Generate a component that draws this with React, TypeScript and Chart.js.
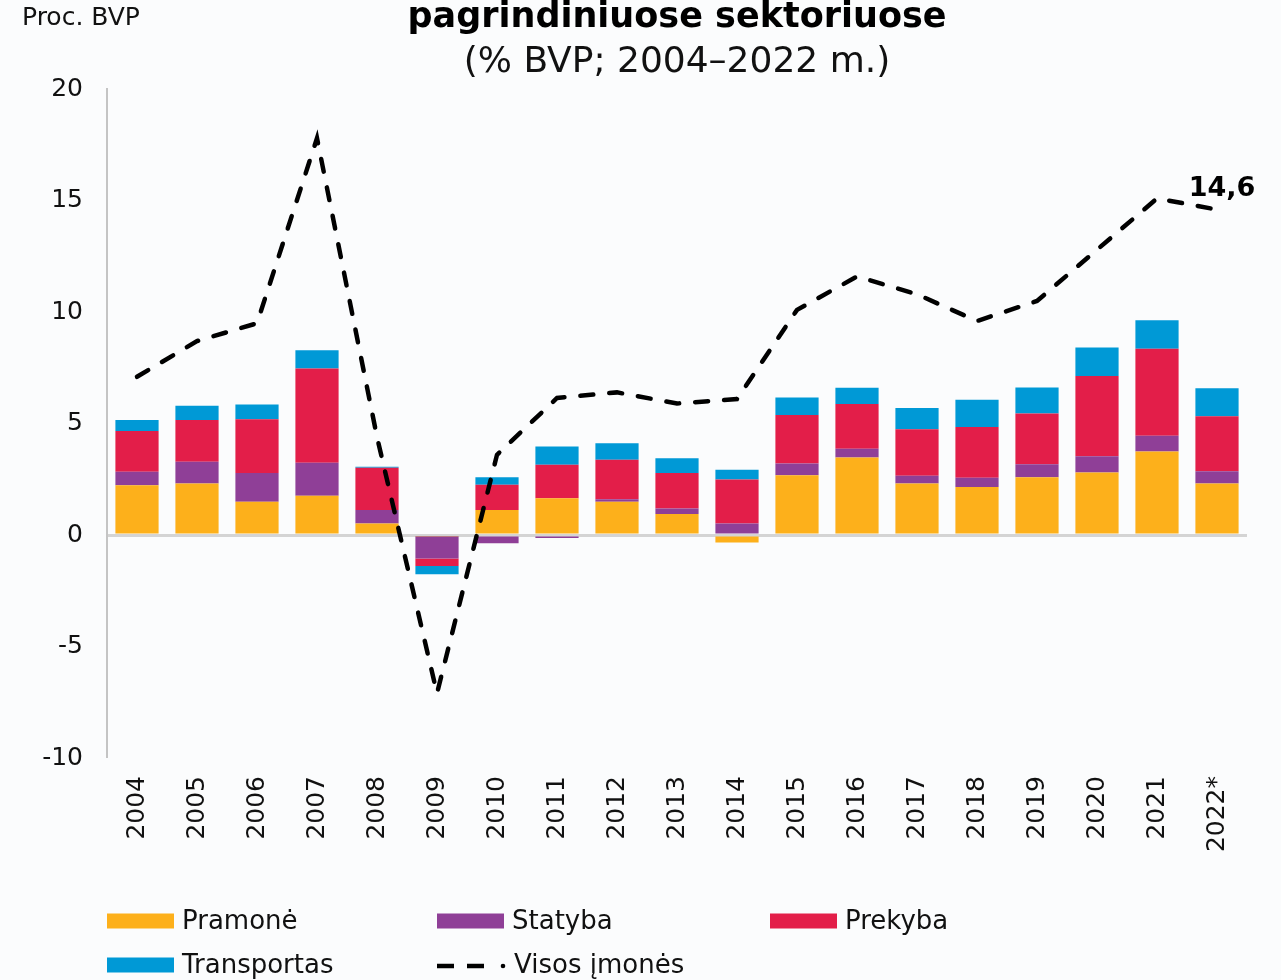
import React, { useEffect, useRef } from "react";
import { Chart, registerables } from "chart.js";

Chart.register(...registerables);

const years = ["2004", "2005", "2006", "2007", "2008", "2009", "2010", "2011", "2012", "2013", "2014", "2015", "2016", "2017", "2018", "2019", "2020", "2021", "2022*"];
const pramone = [2.23, 2.31, 1.49, 1.76, 0.52, -0.05, 1.12, 1.65, 1.49, 0.95, -0.33, 2.68, 3.48, 2.31, 2.16, 2.59, 2.81, 3.75, 2.31];
const statyba = [0.61, 0.98, 1.29, 1.48, 0.61, -1.0, -0.37, -0.13, 0.12, 0.24, 0.52, 0.53, 0.39, 0.35, 0.41, 0.59, 0.73, 0.7, 0.55];
const prekyba = [1.83, 1.87, 2.41, 4.23, 1.89, -0.34, 1.14, 1.5, 1.77, 1.59, 1.97, 2.18, 2.01, 2.09, 2.28, 2.27, 3.6, 3.91, 2.47];
const transportas = [0.49, 0.64, 0.67, 0.82, 0.05, -0.37, 0.33, 0.82, 0.74, 0.67, 0.44, 0.78, 0.73, 0.95, 1.22, 1.17, 1.27, 1.28, 1.26];
const visosImones = [7.1, 8.7, 9.5, 17.8, 4.4, -7.1, 3.6, 6.15, 6.4, 5.9, 6.1, 10.1, 11.6, 10.8, 9.6, 10.5, 12.8, 15.1, 14.6];
const yTicks = [-10, -5, 0, 5, 10, 15, 20];

const seriesNames = ["Pramonė", "Statyba", "Prekyba", "Transportas", "Visos įmonės"];
const seriesColors = ["#FDB01B", "#8F3F97", "#E31E49", "#0099D6", "#000000"];
const titleText = "pagrindiniuose sektoriuose";
const subtitleText = "(% BVP; 2004–2022 m.)";
const unitText = "Proc. BVP";
const lastLabel = "14,6";

const FONT = "'DejaVu Sans', Verdana, sans-serif";

const extrasPlugin = {
  id: "extras",
  beforeDraw(chart: any) {
    const ctx = chart.ctx;
    ctx.save();
    ctx.fillStyle = "#fbfcfd";
    ctx.fillRect(0, 0, chart.width, chart.height);
    ctx.restore();
  },
  afterDatasetsDraw(chart: any) {
    const ctx = chart.ctx;
    const meta = chart.getDatasetMeta(4);
    const pt = meta.data[meta.data.length - 1];
    ctx.save();
    ctx.font = `bold 27px ${FONT}`;
    ctx.fillStyle = "#000";
    ctx.textAlign = "center";
    ctx.textBaseline = "alphabetic";
    ctx.fillText(lastLabel, pt.x + 5, pt.y - 14);
    ctx.restore();
  },
  afterDraw(chart: any) {
    const ctx = chart.ctx;
    ctx.save();
    ctx.font = `25px ${FONT}`;
    ctx.fillStyle = "#111";
    ctx.textAlign = "left";
    ctx.textBaseline = "middle";
    ctx.fillText(unitText, 22, 18);

    const items = [
      { i: 0, x: 107, y: 921 },
      { i: 1, x: 437, y: 921 },
      { i: 2, x: 770, y: 921 },
      { i: 3, x: 107, y: 965 },
      { i: 4, x: 437, y: 965 },
    ];
    ctx.font = `26px ${FONT}`;
    items.forEach((it) => {
      const ds = chart.data.datasets[it.i];
      if (it.i < 4) {
        ctx.fillStyle = ds.backgroundColor;
        ctx.fillRect(it.x, it.y - 7.5, 67, 15);
      } else {
        ctx.strokeStyle = "#000";
        ctx.lineWidth = 4.5;
        ctx.lineCap = "butt";
        ctx.beginPath();
        ctx.moveTo(it.x, it.y + 1);
        ctx.lineTo(it.x + 17, it.y + 1);
        ctx.moveTo(it.x + 30, it.y + 1);
        ctx.lineTo(it.x + 47, it.y + 1);
        ctx.stroke();
        ctx.beginPath();
        ctx.arc(it.x + 66, it.y + 1, 2.3, 0, Math.PI * 2);
        ctx.fillStyle = "#000";
        ctx.fill();
      }
      ctx.fillStyle = "#111";
      ctx.textBaseline = "middle";
      ctx.fillText(ds.label, it.i < 4 ? it.x + 75 : it.x + 77, it.y + 1);
    });
    ctx.restore();
  },
};

export default function App() {
  const ref = useRef<HTMLCanvasElement | null>(null);
  useEffect(() => {
    document.body.style.margin = "0";
    if (!ref.current) return;
    const barDs = (i: number, data: number[]) => ({
      type: "bar" as const,
      label: seriesNames[i],
      data,
      backgroundColor: seriesColors[i],
      borderWidth: 0,
      stack: "bars",
      order: 1,
      barPercentage: 0.72,
      categoryPercentage: 1,
    });
    const chart = new Chart(ref.current, {
      type: "bar",
      data: {
        labels: years,
        datasets: [
          barDs(0, pramone),
          barDs(1, statyba),
          barDs(2, prekyba),
          barDs(3, transportas),
          {
            type: "line" as const,
            label: seriesNames[4],
            data: visosImones,
            borderColor: "#000",
            borderWidth: 4.5,
            borderDash: [13, 16],
            borderCapStyle: "round",
            pointRadius: 0,
            tension: 0,
            fill: false,
            stack: "line",
            order: 0,
          } as any,
        ],
      },
      options: {
        responsive: true,
        maintainAspectRatio: false,
        animation: false,
        layout: { padding: { left: 0, right: 34, top: 0, bottom: 0 } },
        plugins: {
          legend: { display: false },
          tooltip: { enabled: false },
          title: {
            display: true,
            text: titleText,
            fullSize: false,
            color: "#000",
            font: { family: FONT, size: 35, weight: "bold", lineHeight: 1 },
            padding: { top: 0, bottom: 6 },
          },
          subtitle: {
            display: true,
            text: subtitleText,
            fullSize: false,
            color: "#111",
            font: { family: FONT, size: 36, lineHeight: 1.2 },
            padding: { top: 0, bottom: 5 },
          },
        },
        scales: {
          x: {
            stacked: true,
            grid: { display: false, drawTicks: false },
            border: { display: false },
            ticks: {
              color: "#111",
              font: { family: FONT, size: 25 },
              minRotation: 90,
              maxRotation: 90,
              padding: 18,
              autoSkip: false,
            },
            afterFit: (s: any) => {
              s.height = 222;
            },
          },
          y: {
            stacked: true,
            min: -10,
            max: 20,
            afterBuildTicks: (s: any) => {
              s.ticks = yTicks.map((v) => ({ value: v }));
            },
            grid: {
              drawTicks: false,
              color: (c: any) => (c.tick && c.tick.value === 0 ? "#d4d4d4" : "rgba(0,0,0,0)"),
              lineWidth: (c: any) => (c.tick && c.tick.value === 0 ? 3 : 0),
            },
            border: { display: true, color: "#c4c4c4", width: 2 },
            ticks: {
              color: "#111",
              font: { family: FONT, size: 25 },
              padding: 24,
            },
            afterFit: (s: any) => {
              s.width = 107;
            },
          },
        },
      },
      plugins: [extrasPlugin],
    });
    return () => chart.destroy();
  }, []);
  return (
    <div style={{ width: 1281, height: 980, position: "relative" }}>
      <canvas ref={ref} />
    </div>
  );
}
